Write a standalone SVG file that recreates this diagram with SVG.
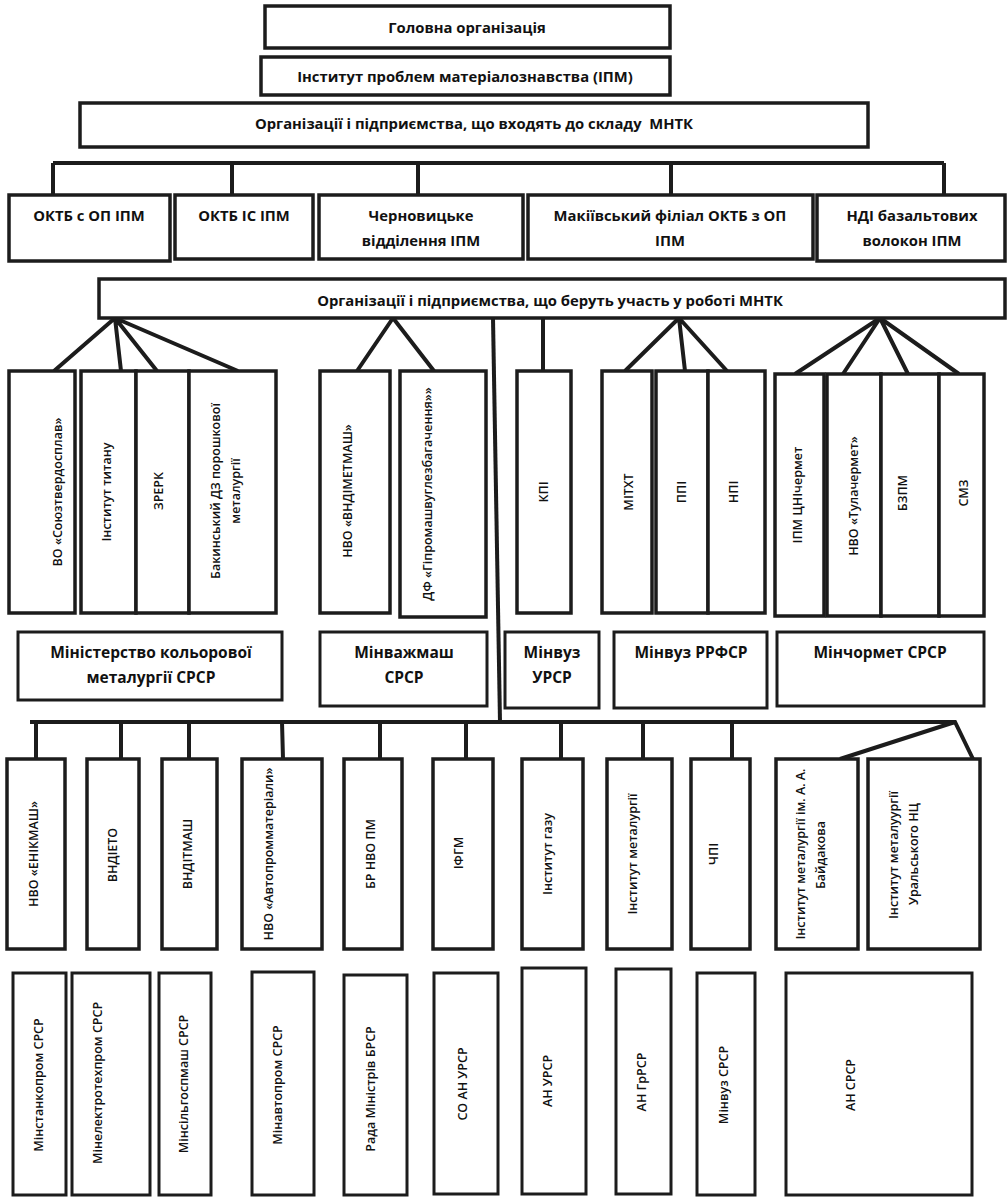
<svg xmlns="http://www.w3.org/2000/svg" width="1007" height="1198" viewBox="0 0 1007 1198">
<style>
.b{fill:#fff;stroke:#1c1c1c;stroke-width:3.5}
.bt{fill:#fff;stroke:#1c1c1c;stroke-width:3}
.c{fill:none;stroke:#1c1c1c;stroke-width:4}
text{font-family:"Open Sans","Noto Sans","DejaVu Sans",sans-serif;fill:#111;text-anchor:middle}
.h{font-size:14.8px;font-weight:700}
.m{font-size:15.5px;font-weight:700}
.v{font-size:12.5px;font-weight:600;dominant-baseline:central}
</style>
<rect width="1007" height="1198" fill="#fff"/>

<g id="connectors">
<path class="c" d="M53,163H944M53,163V195M232,163V195M418,163V195M671,163V195M944,163V195"/>
<path class="c" d="M115,318L54,371M115,318L121,371M115,318L157,371M115,318L238,371"/>
<path class="c" d="M393,318L357,371M393,318L434,371"/>
<path class="c" d="M493,318L500,722"/>
<path class="c" d="M543,318V371"/>
<path class="c" d="M679,318L625,371M679,318L685,371M679,318L727,371"/>
<path class="c" d="M880,318L795,374M880,318L843,374M880,318L908,374M880,318L959,374"/>
<path class="c" d="M30,722H955L973,759M955,722L840,759"/>
<path class="c" d="M36,722V759M121,722V759M189,722V759M282,722L283,759M380,722V759M466,722V759M561,722V759M643,722V759M732,722V759"/>
</g>

<g id="n-golovna"><rect class="b" x="265" y="6" width="405" height="42"/><text class="h" x="467" y="33">Головна організація</text></g>
<g id="n-ipm"><rect class="b" x="261" y="57" width="409" height="38"/><text class="h" x="465" y="82">Інститут проблем матеріалознавства (ІПМ)</text></g>
<g id="n-sklad"><rect class="b" x="80" y="103" width="788" height="44"/><text class="h" x="474" y="129" xml:space="preserve">Організації і підприємства, що входять до складу  МНТК</text></g>

<g id="n-oktb-op"><rect class="b" x="9" y="195" width="161" height="66"/><text class="h" x="89" y="221">ОКТБ с ОП ІПМ</text></g>
<g id="n-oktb-is"><rect class="b" x="175" y="195" width="138" height="64"/><text class="h" x="244" y="221">ОКТБ ІС ІПМ</text></g>
<g id="n-chern"><rect class="b" x="319" y="195" width="204" height="64"/><text class="h" x="421" y="221">Черновицьке</text><text class="h" x="421" y="246">відділення ІПМ</text></g>
<g id="n-makiiv"><rect class="b" x="528" y="195" width="285" height="64"/><text class="h" x="670" y="221">Макіївський філіал ОКТБ з ОП</text><text class="h" x="670" y="246">ІПМ</text></g>
<g id="n-ndi"><rect class="b" x="817" y="195" width="188" height="66"/><text class="h" x="912" y="221">НДІ базальтових</text><text class="h" x="912" y="246">волокон ІПМ</text></g>

<g id="n-uchast"><rect class="b" x="99" y="279" width="906" height="39"/><text class="h" x="550" y="306">Організації і підприємства, що беруть участь у роботі МНТК</text></g>

<g id="n-vo"><rect class="b" x="9" y="371" width="66" height="242"/><text class="v" transform="rotate(-90 57 492)" x="57" y="492">ВО «Союзтвердосплав»</text></g>
<g id="n-tytan"><rect class="b" x="81" y="371" width="55" height="242"/><text class="v" transform="rotate(-90 106 492)" x="106" y="492">Інститут титану</text></g>
<g id="n-zrerk"><rect class="b" x="136" y="371" width="53" height="242"/><text class="v" transform="rotate(-90 158 491)" x="158" y="491">ЗРЕРК</text></g>
<g id="n-bakin"><rect class="b" x="189" y="371" width="87" height="242"/><text class="v" transform="rotate(-90 215 491)" x="215" y="491">Бакинський ДЗ порошкової</text><text class="v" transform="rotate(-90 235 491)" x="235" y="491">металургії</text></g>

<g id="n-vndimetmash"><rect class="b" x="320" y="371" width="70" height="242"/><text class="v" transform="rotate(-90 347 491)" x="347" y="491">НВО «ВНДІМЕТМАШ»</text></g>
<g id="n-df"><rect class="b" x="400" y="371" width="86" height="246"/><text class="v" transform="rotate(-90 427 494)" x="427" y="494">ДФ «Гіпромашвуглезбагачення»»</text></g>

<g id="n-kpi"><rect class="b" x="517" y="371" width="54" height="242"/><text class="v" transform="rotate(-90 543 492)" x="543" y="492">КПІ</text></g>
<g id="n-mitht"><rect class="b" x="602" y="371" width="50" height="242"/><text class="v" transform="rotate(-90 628 492)" x="628" y="492">МІТХТ</text></g>
<g id="n-ppi"><rect class="b" x="656" y="371" width="52" height="242"/><text class="v" transform="rotate(-90 681 492)" x="681" y="492">ППІ</text></g>
<g id="n-npi"><rect class="b" x="708" y="371" width="57" height="242"/><text class="v" transform="rotate(-90 733 492)" x="733" y="492">НПІ</text></g>

<g id="n-cnichermet"><rect class="b" x="775" y="374" width="49" height="242"/><text class="v" transform="rotate(-90 797 495)" x="797" y="495">ІПМ ЦНІчермет</text></g>
<g id="n-tulachermet"><rect class="b" x="827" y="374" width="54" height="242"/><text class="v" transform="rotate(-90 853 496)" x="853" y="496">НВО «Тулачермет»</text></g>
<g id="n-bzpm"><rect class="b" x="881" y="374" width="58" height="242"/><text class="v" transform="rotate(-90 902 493)" x="902" y="493">БЗПМ</text></g>
<g id="n-smz"><rect class="b" x="939" y="374" width="45" height="242"/><text class="v" transform="rotate(-90 963 493)" x="963" y="493">СМЗ</text></g>

<g id="n-min-kolor"><rect class="bt" x="18" y="632" width="264" height="68"/><text class="m" x="151" y="658">Міністерство кольорової</text><text class="m" x="151" y="683">металургії СРСР</text></g>
<g id="n-minvazhmash"><rect class="bt" x="320" y="632" width="167" height="74"/><text class="m" x="404" y="658">Мінважмаш</text><text class="m" x="404" y="683">СРСР</text></g>
<g id="n-minvuz-ursr"><rect class="bt" x="505" y="632" width="94" height="76"/><text class="m" x="552" y="658">Мінвуз</text><text class="m" x="552" y="683">УРСР</text></g>
<g id="n-minvuz-rrfsr"><rect class="bt" x="614" y="632" width="153" height="76"/><text class="m" x="691" y="658">Мінвуз РРФСР</text></g>
<g id="n-minchormet"><rect class="bt" x="777" y="632" width="207" height="74"/><text class="m" x="880" y="658">Мінчормет СРСР</text></g>

<g id="n-enikmash"><rect class="b" x="7" y="759" width="58" height="190"/><text class="v" transform="rotate(-90 33 854)" x="33" y="854">НВО «ЕНІКМАШ»</text></g>
<g id="n-vndieto"><rect class="b" x="87" y="759" width="52" height="190"/><text class="v" transform="rotate(-90 112 855)" x="112" y="855">ВНДІЕТО</text></g>
<g id="n-vnditmash"><rect class="b" x="162" y="759" width="55" height="190"/><text class="v" transform="rotate(-90 187 854)" x="187" y="854">ВНДІТМАШ</text></g>
<g id="n-avtoprom"><rect class="b" x="242" y="759" width="80" height="190"/><text class="v" transform="rotate(-90 268 854)" x="268" y="854">НВО «Автопромматеріали»</text></g>
<g id="n-br"><rect class="b" x="344" y="759" width="58" height="190"/><text class="v" transform="rotate(-90 370 854)" x="370" y="854">БР НВО ПМ</text></g>
<g id="n-ifgm"><rect class="b" x="433" y="759" width="60" height="190"/><text class="v" transform="rotate(-90 458 853)" x="458" y="853">ІФГМ</text></g>
<g id="n-gazu"><rect class="b" x="522" y="759" width="61" height="190"/><text class="v" transform="rotate(-90 547 854)" x="547" y="854">Інститут газу</text></g>
<g id="n-metalurgii"><rect class="b" x="607" y="759" width="65" height="190"/><text class="v" transform="rotate(-90 632 854)" x="632" y="854">Інститут металургії</text></g>
<g id="n-chpi"><rect class="b" x="691" y="759" width="59" height="190"/><text class="v" transform="rotate(-90 713 854)" x="713" y="854">ЧПІ</text></g>
<g id="n-baidakov"><rect class="b" x="776" y="759" width="82" height="190"/><text class="v" transform="rotate(-90 800 854)" x="800" y="854">Інститут металургії ім. А. А.</text><text class="v" transform="rotate(-90 820 855)" x="820" y="855">Байдакова</text></g>
<g id="n-ural"><rect class="b" x="868" y="759" width="112" height="190"/><text class="v" transform="rotate(-90 893 855)" x="893" y="855">Інститут металуургії</text><text class="v" transform="rotate(-90 913 854)" x="913" y="854">Уральського НЦ</text></g>

<g id="n-minstankoprom"><rect class="bt" x="13" y="973" width="53" height="222"/><text class="v" transform="rotate(-90 38 1085)" x="38" y="1085">Мінстанкопром СРСР</text></g>
<g id="n-minelektro"><rect class="bt" x="72" y="973" width="78" height="222"/><text class="v" transform="rotate(-90 97 1083)" x="97" y="1083">Мінелектротехпром СРСР</text></g>
<g id="n-minsilgosp"><rect class="bt" x="159" y="973" width="52" height="222"/><text class="v" transform="rotate(-90 183 1084)" x="183" y="1084">Мінсільгоспмаш СРСР</text></g>
<g id="n-minavtoprom"><rect class="bt" x="252" y="972" width="62" height="223"/><text class="v" transform="rotate(-90 277 1085)" x="277" y="1085">Мінавтопром СРСР</text></g>
<g id="n-rada"><rect class="bt" x="344" y="975" width="63" height="220"/><text class="v" transform="rotate(-90 370 1089)" x="370" y="1089">Рада Міністрів БРСР</text></g>
<g id="n-so-an"><rect class="bt" x="434" y="973" width="64" height="221"/><text class="v" transform="rotate(-90 462 1084)" x="462" y="1084">СО АН УРСР</text></g>
<g id="n-an-ursr"><rect class="bt" x="522" y="968" width="64" height="226"/><text class="v" transform="rotate(-90 547 1081)" x="547" y="1081">АН УРСР</text></g>
<g id="n-an-grrsr"><rect class="bt" x="616" y="969" width="55" height="225"/><text class="v" transform="rotate(-90 641 1082)" x="641" y="1082">АН ГрРСР</text></g>
<g id="n-minvuz-srsr"><rect class="bt" x="697" y="973" width="58" height="222"/><text class="v" transform="rotate(-90 723 1085)" x="723" y="1085">Мінвуз СРСР</text></g>
<g id="n-an-srsr"><rect class="bt" x="786" y="973" width="186" height="222"/><text class="v" transform="rotate(-90 850 1085)" x="850" y="1085">АН СРСР</text></g>
</svg>
